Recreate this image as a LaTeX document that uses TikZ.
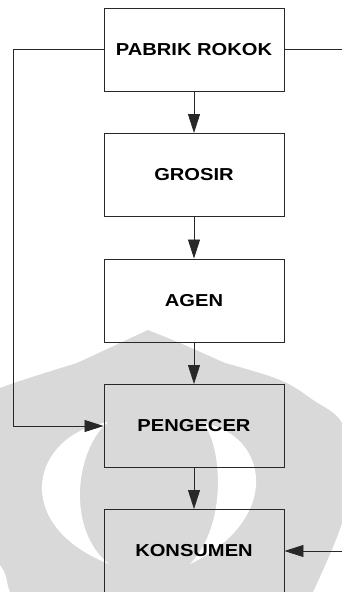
\documentclass[tikz,border=0pt]{standalone}
\usepackage{fontspec}
\usetikzlibrary{arrows.meta}
\newfontfamily\boxfont[FakeStretch=1.164]{Liberation Sans}
\definecolor{wmgray}{RGB}{217,217,217}
\definecolor{linegray}{RGB}{40,40,40}
\tikzset{
  stage/.style={draw=linegray, line width=0.9pt, minimum width=180pt, minimum height=83pt,
    inner sep=0pt, font=\boxfont\bfseries\fontsize{17.3}{20}\selectfont},
  flow/.style={draw=linegray, line width=0.8pt, -{Triangle[length=19pt,width=12pt]}},
  plain/.style={draw=linegray, line width=0.8pt}
}
\begin{document}
\begin{tikzpicture}[x=1pt,y=-1pt]
\useasboundingbox (0,0) rectangle (342,592);
\clip (0,0) rectangle (342,592);
\fill[white] (0,0) rectangle (342,592);

% background emblem
\fill[wmgray] (77,363) -- (148,330) -- (180,343) -- (225,363)
  -- plot[smooth, tension=0.6] coordinates {(225,363) (280,380) (313,400) (342,423) (352,470) (342,523) (313,592) (295,625)}
  -- (25,625)
  -- plot[smooth, tension=0.6] coordinates {(25,625) (10,592) (0,565) (-40,530) (-55,480) (-50,440) (-30,405) (0,388) (77,363)}
  -- cycle;
\fill[white] (108,422) .. controls (30,435) and (10,525) .. (109,564)
  .. controls (66,530) and (75,450) .. (108,422) -- cycle;
\fill[white] (203,423) .. controls (270,435) and (282,520) .. (190,564)
  .. controls (228,525) and (222,445) .. (203,423) -- cycle;

% stages of the distribution chain
\node[stage] (pabrik)   at (194,49.5) {PABRIK ROKOK};
\node[stage] (grosir)   at (194,175)  {GROSIR};
\node[stage] (agen)     at (194,300.5){AGEN};
\node[stage] (pengecer) at (194,426)  {PENGECER};
\node[stage] (konsumen) at (194,551)  {KONSUMEN};

\coordinate (leftrail)  at (13.5,0);
\coordinate (rightout)  at (343,49.5);
\coordinate (rightin)   at (343,551);

\draw[flow] (pabrik) -- (grosir);
\draw[flow] (grosir) -- (agen);
\draw[flow] (agen) -- (pengecer);
\draw[flow] (pengecer) -- (konsumen);
\draw[flow] (pabrik.west) -| (leftrail |- pengecer.west) -- (pengecer.west);
\draw[plain] (pabrik.east) -- (rightout);
\draw[flow] (rightin) -- (konsumen.east);
\end{tikzpicture}
\end{document}
